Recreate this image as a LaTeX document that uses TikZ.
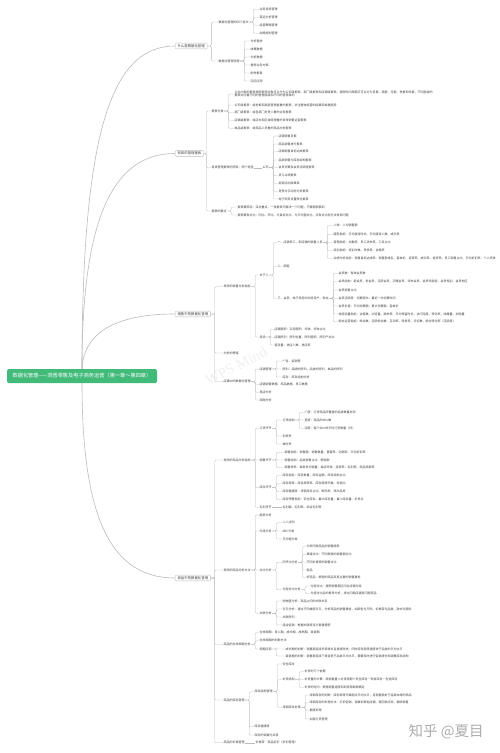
\documentclass[tikz,border=0pt]{standalone}
\usepackage{fontspec}
\setmainfont{Noto Sans CJK SC}
\newfontfamily\wmfont{Liberation Serif}
\definecolor{mapgreen}{RGB}{66,186,122}
\definecolor{mapline}{RGB}{188,188,188}
\definecolor{maptext}{RGB}{64,64,64}
\tikzset{
  leaf/.style={anchor=west,inner sep=0.4pt,text=maptext,font=\fontsize{3}{3.4}\selectfont},
  topic/.style={anchor=west,draw=mapline,line width=0.35pt,rounded corners=1pt,inner xsep=2.4pt,inner ysep=1.3pt,text=maptext,font=\fontsize{3.4}{4}\selectfont},
  link/.style={mapline,line width=0.35pt,rounded corners=1.2pt},
  trunk/.style={mapline,line width=0.6pt},
}
\begin{document}
\begin{tikzpicture}[x=1pt,y=-1pt]
\fill[white] (0,0) rectangle (500,753);
\useasboundingbox (0,0) rectangle (500,753);
\node[rotate=27,inner sep=0pt,text=black!6,font=\wmfont\fontsize{15}{15}\selectfont] (wps) at (236,366) {WPS Mind};
\node[anchor=west,text=black!32,font=\fontsize{14.5}{15}\selectfont] (zhihu) at (405,731.5) {知乎 @夏目};

% root and main branches
\node[fill=mapgreen,text=white,rounded corners=1.5pt,minimum width=150pt,minimum height=14pt,inner sep=1pt,font=\fontsize{5.2}{6}\selectfont] (root) at (82,376) {数据化管理——洞悉零售及电子商务运营（第一章～第四章）};
\node[topic] (what) at (175,46) {什么是数据化管理};
\node[topic] (bao) at (175,153.5) {有效的管理报表};
\node[topic] (sale) at (175,314) {销售中的数据化管理};
\node[topic] (goods) at (175,578) {商品中的数据化管理};
\draw[trunk] (root.north) .. controls (82,130) and (112,46) .. (what.west);
\draw[trunk] (root.north) .. controls (82,220) and (112,153.5) .. (bao.west);
\draw[trunk] (root.north) .. controls (84,330) and (120,314) .. (sale.west);
\draw[trunk] (root.south) .. controls (82,520) and (112,578) .. (goods.west);

% chapter 1
\node[leaf] (ceng) at (218,22) {数据化管理的四个层次};
\node[leaf] (liu) at (218,61) {数据化管理流程};
\foreach \m in {ceng,liu} \draw[link] (what.east) -- ++(4,0) |- (\m.west);
\foreach \yy/\txt [count=\n] in {9.3/业务指导管理,17.3/营运分析管理,25.3/经营策略管理,33.3/战略规划管理} {
  \node[leaf] (cc\n) at (259,\yy) {\txt};
  \draw[link] (ceng.east) -- ++(4,0) |- (cc\n.west);
}
\foreach \yy/\txt [count=\n] in {41/分析需求,49/收集数据,57/分析数据,65/提炼业务方案,73/制作报表,81/实际应用} {
  \node[leaf] (lc\n) at (250,\yy) {\txt};
  \draw[link] (liu.east) -- ++(4,0) |- (lc\n.west);
}

% chapter 2
\node[leaf] (fenlei) at (211,111) {报表分类};
\node[leaf] (caiji) at (211,167.7) {有效管理报表的获取：两个途径};
\node[leaf] (gongsi) at (262,167.7) {公司};
\node[leaf] (yaodian) at (211,211) {报表的要点};
\foreach \m in {fenlei,caiji,yaodian} \draw[link] (bao.east) -- ++(2.5,0) |- (\m.west);
\draw[link] (caiji.east) -- (gongsi.west);
\node[leaf,align=left] (fl0) at (234,94) {企业内部的报表按照使用对象可以分为公司级报表、部门级报表和店铺级报表，按照时间周期又可以分为日报、周报、月报、季报和年报，不同层级的\\报表对应着不同的管理层级和不同的管理目的};
\draw[link] (fenlei.east) -- ++(4,0) |- (fl0.west);
\foreach \yy/\txt [count=\n] in {105/公司级报表：给老板和高层管理者看的报表，关注整体经营的结果和发展趋势,
  112.7/部门级报表：给各部门负责人看的业务报表,
  120.3/店铺级报表：给店长和区域经理看的日常销售运营报表,
  128.3/单品级报表：给商品人员看的商品分析报表} {
  \node[leaf] (fl\n) at (234,\yy) {\txt};
  \draw[link] (fenlei.east) -- ++(4,0) |- (fl\n.west);
}
\foreach \yy/\txt [count=\n] in {136/店铺销售日报,144/商品销售排行报表,151.7/店铺销售目标达成报表,160/品类销售与库存结构报表,
  167.7/会员消费及会员活跃度报表,175.7/员工业绩报表,183.3/促销活动效果表,191.3/竞争对手动态分析报表,199/电子商务流量转化报表} {
  \node[leaf] (gs\n) at (278,\yy) {\txt};
  \draw[link] (gongsi.east) -- ++(4,0) |- (gs\n.west);
}
\foreach \yy/\txt [count=\n] in {207/报表要简洁：突出重点，一张报表只解决一个问题，不要面面俱到,
  215/报表要有对比：同比、环比、与目标对比、与平均值对比，没有对比就无法发现问题} {
  \node[leaf] (yd\n) at (237,\yy) {\txt};
  \draw[link] (yaodian.east) -- ++(4,0) |- (yd\n.west);
}

% chapter 3
\node[leaf] (zhibiao) at (223,286.7) {常用的销售分析指标};
\node[leaf] (silu) at (223,353) {分析的思路};
\node[leaf] (dianpu) at (223,381.7) {店铺中的数据化管理};
\foreach \m in {zhibiao,silu,dianpu} \draw[link] (sale.east) -- ++(4,0) |- (\m.west);
\node[leaf] (ren) at (259,275) {关于人};
\node[leaf] (chang) at (259,337) {卖场};
\foreach \m in {ren,chang} \draw[link] (zhibiao.east) -- ++(4,0) |- (\m.west);
\node[leaf] (yg) at (277,242.7) {一、店铺员工，即店铺的销售人员};
\node[leaf] (guke) at (277,266.7) {二、顾客};
\node[leaf] (hy) at (277,298.3) {三、会员、电子商务的浏览用户、粉丝};
\foreach \m in {yg,guke,hy} \draw[link] (ren.east) -- ++(4,0) |- (\m.west);
\foreach \yy/\txt [count=\n] in {225.7/人效：人均销售额,234.3/服务指标：平均接待时长、平均接待人数、成交率,
  242.3/管理指标：出勤率、员工流失率、工资占比,250.3/培训指标：培训次数、考核率、合格率,
  258.3/业绩分析指标：销售目标达成率、销售额排名、客单价、连带率、成交率、退货率、员工销售占比、平均折扣率、个人坪效} {
  \node[leaf] (yg\n) at (333,\yy) {\txt};
  \draw[link] (yg.east) -- ++(4,0) |- (yg\n.west);
}
\foreach \yy/\txt [count=\n] in {273.3/会员数：有效会员数,
  281.7/会员结构：新会员、老会员、活跃会员、沉睡会员、流失会员、会员年龄层、会员性别、会员地区,
  290/会员销售占比,298.3/会员活跃度：消费频次、最近一次消费时间,306/会员价值：平均消费额、累计消费额、客单价,
  314/电商流量指标：访客数、浏览量、跳失率、平均停留时长、访问深度、转化率、收藏量、加购量,
  321.7/粉丝运营指标：粉丝数、活跃粉丝数、互动率、转发率、评论数、粉丝转化率（活跃度）} {
  \node[leaf] (hy\n) at (338,\yy) {\txt};
  \draw[link] (hy.east) -- ++(4,0) |- (hy\n.west);
}
\foreach \yy/\txt [count=\n] in {329.7/店铺面积：实用面积、坪效、坪效占比,337.3/店铺陈列：陈列位置、陈列面积、陈列产出比,345/客流量：进店人数、进店率} {
  \node[leaf] (ch\n) at (274,\yy) {\txt};
  \draw[link] (chang.east) -- ++(4,0) |- (ch\n.west);
}
\node[leaf] (guanli) at (259,369) {店铺管理};
\node[leaf] (shuju) at (259,384.3) {店铺销售数据、商品数据、员工数据};
\node[leaf] (jingdian) at (259,392.3) {竞店分析};
\node[leaf] (shangquan) at (259,400) {商圈分析};
\foreach \m in {guanli,shuju,jingdian,shangquan} \draw[link] (dianpu.east) -- ++(4,0) |- (\m.west);
\foreach \yy/\txt [count=\n] in {361/广告、促销等,369/陈列：品牌的陈列、品类的陈列、单品的陈列,377/库存：库存结构分析} {
  \node[leaf] (gl\n) at (282,\yy) {\txt};
  \draw[link] (guanli.east) -- ++(4,0) |- (gl\n.west);
}

% chapter 4
\node[leaf] (spzb) at (223,460) {常用的商品分析指标};
\node[leaf] (spff) at (223,570) {常用的商品分析方法};
\node[leaf] (zhouqi) at (223,644.3) {商品的生命周期分析};
\node[leaf] (kcgl) at (223,700) {商品的库存管理};
\node[leaf] (jiage) at (223,742.7) {商品的价格管理};
\foreach \m in {spzb,spff,zhouqi,kcgl,jiage} \draw[link] (goods.east) -- ++(4,0) |- (\m.west);
\node[leaf] (dinghuo) at (259,428.3) {订货环节};
\node[leaf] (xiaoshou) at (259,460) {销售环节};
\node[leaf] (kucun) at (259,487.7) {库存环节};
\node[leaf] (maoli) at (259,507.3) {毛利环节};
\foreach \m in {dinghuo,xiaoshou,kucun,maoli} \draw[link] (spzb.east) -- ++(4,0) |- (\m.west);
\node[leaf] (jiegou) at (282,420) {订货结构};
\node[leaf] (daohuo) at (282,436) {到货率};
\node[leaf] (zhunshi) at (282,444) {准时率};
\foreach \m in {jiegou,daohuo,zhunshi} \draw[link] (dinghuo.east) -- ++(4,0) |- (\m.west);
\foreach \yy/\txt [count=\n] in {412.3/广度：订货商品所覆盖的品类数量总和,420/宽度：商品的SKU数,428.3/深度：每个SKU的平均订货数量（件）} {
  \node[leaf] (jg\n) at (304,\yy) {\txt};
  \draw[link] (jiegou.east) -- ++(4,0) |- (jg\n.west);
}
\foreach \yy/\txt [count=\n] in {452.3/销售指标：销售额、销售数量、售罄率、动销率、平均折扣率,460/销售结构：品类销售占比、畅销款,
  467.7/销售效率：单款日均销量、单店坪效、连带率、毛利率、商品贡献率} {
  \node[leaf] (xs\n) at (284,\yy) {\txt};
  \draw[link] (xiaoshou.east) -- ++(4,0) |- (xs\n.west);
}
\foreach \yy/\txt [count=\n] in {475.7/库存指标：库存数量、库存金额、库存结构占比,483.7/库存周转：库存周转率、库存周转天数、存销比,
  491.7/库存健康度：滞销库存占比、断码率、残次品率,499.7/库存预警指标：安全库存、最大库存量、最小库存量、补货点} {
  \node[leaf] (kc\n) at (282,\yy) {\txt};
  \draw[link] (kucun.east) -- ++(4,0) |- (kc\n.west);
}
\node[leaf] (ml1) at (282,507.3) {毛利额、毛利率、综合毛利率};
\draw[link] (maoli.east) -- (ml1.west);
\node[leaf] (qushi) at (259,515) {趋势分析};
\node[leaf] (fenzu) at (259,531) {分组分析};
\node[leaf] (duibi) at (259,570) {对比分析};
\node[leaf] (guanlian) at (259,613.3) {关联分析};
\foreach \m in {qushi,fenzu,duibi,guanlian} \draw[link] (spff.east) -- ++(4,0) |- (\m.west);
\foreach \yy/\txt [count=\n] in {522.7/二八法则,531/ABC分类,539/平均值分类} {
  \node[leaf] (fz\n) at (282,\yy) {\txt};
  \draw[link] (fenzu.east) -- ++(4,0) |- (fz\n.west);
}
\node[leaf] (tongbi) at (282,562.3) {同环比分析};
\node[leaf] (fenceng) at (282,589.7) {分层对比分析};
\foreach \m in {tongbi,fenceng} \draw[link] (duibi.east) -- ++(4,0) |- (\m.west);
\foreach \yy/\txt [count=\n] in {546.7/分析同类商品的销售趋势,554.3/渠道对比：不同渠道的销售额对比,562.3/不同价格带的销售对比,
  570/新品,577.7/好商品：畅销的商品及其主要的销售属性} {
  \node[leaf] (tb\n) at (306,\yy) {\txt};
  \draw[link] (tongbi.east) -- ++(4,0) |- (tb\n.west);
}
\foreach \yy/\txt [count=\n] in {586/分层对比：按照销售额区间对店铺分层,593.7/分层对比后的差异分析，找出问题店铺及问题商品} {
  \node[leaf] (fc\n) at (310,\yy) {\txt};
  \draw[link] (fenceng.east) -- ++(4,0) |- (fc\n.west);
}
\foreach \yy/\txt [count=\n] in {601/购物篮分析：商品之间的关联关系,
  609/交叉分析：通过不同维度交叉，分析商品的销售属性，如颜色与尺码、价格带与品类、款式与面料,
  617/关联陈列,625/组合促销：根据关联度设计套餐搭配} {
  \node[leaf] (gll\n) at (282,\yy) {\txt};
  \draw[link] (guanlian.east) -- ++(4,0) |- (gll\n.west);
}
\node[leaf] (zq1) at (259,632.7) {生命周期：导入期、成长期、成熟期、衰退期};
\node[leaf] (zq2) at (259,640.7) {生命周期的判断方法};
\node[leaf] (yingyong) at (259,649) {周期应用};
\foreach \m in {zq1,zq2,yingyong} \draw[link] (zhouqi.east) -- ++(4,0) |- (\m.west);
\foreach \yy/\txt [count=\n] in {649/成长期的判断：销售额连续多周增长且增速较快，同时库存周转速度快于品类的平均水平,
  656/衰退期的判断：销售额连续下滑且低于品类平均水平，需要及时进行促销清仓和调整库存结构} {
  \node[leaf] (yy\n) at (285,\yy) {\txt};
  \draw[link] (yingyong.east) -- ++(4,0) |- (yy\n.west);
}
\node[leaf] (kcjg) at (254,691.7) {库存结构管理};
\node[leaf] (jiankang) at (254,726.7) {库存健康度};
\node[leaf] (diaobo) at (254,735) {库存的调拨与共享};
\foreach \m in {kcjg,jiankang,diaobo} \draw[link] (kcgl.east) -- ++(4,0) |- (\m.west);
\node[leaf] (anquan) at (282,664) {安全库存};
\node[leaf] (buhuo) at (282,679.7) {补货机制};
\node[leaf] (zhixiao) at (282,707.3) {滞销库存处理};
\foreach \m in {anquan,buhuo,zhixiao} \draw[link] (kcjg.east) -- ++(4,0) |- (\m.west);
\foreach \yy/\txt [count=\n] in {671.7/补货的三个依据,679.7/补货量的计算：周销售量×补货周期＋安全库存－现有库存－在途库存,
  687.3/补货的时间：根据销售速度和到货周期来确定} {
  \node[leaf] (bh\n) at (304,\yy) {\txt};
  \draw[link] (buhuo.east) -- ++(4,0) |- (bh\n.west);
}
\foreach \yy/\txt [count=\n] in {695/滞销库存的判断：库存周转天数超过平均水平，且销售额处于品类末尾的商品,
  702.7/滞销库存的处理方法：打折促销、调拨到其他店铺、退回供应商、捆绑销售,710.7/报废处理,719/加强订货管理} {
  \node[leaf] (zx\n) at (309,\yy) {\txt};
  \draw[link] (zhixiao.east) -- ++(4,0) |- (zx\n.west);
}
\node[leaf] (dingjia) at (255,742.7) {价格带·商品定价（折扣管理）};
\draw[link] (jiage.east) -- (dingjia.west);
\end{tikzpicture}
\end{document}
